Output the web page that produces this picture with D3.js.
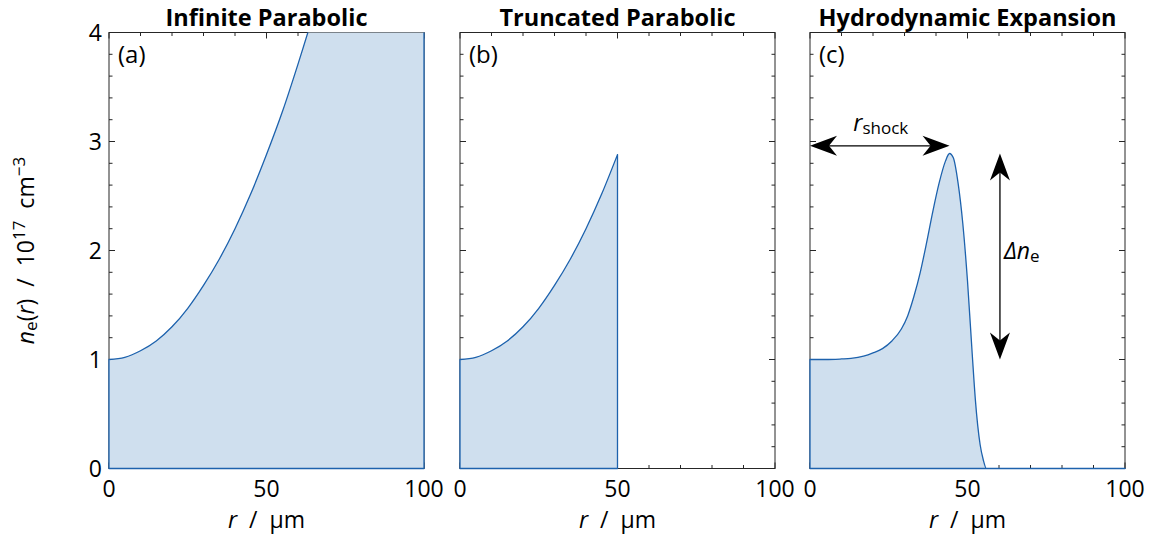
<!DOCTYPE html>
<html>
<head>
<meta charset="utf-8">
<script src="https://cdn.jsdelivr.net/npm/d3@7"></script>
<style>
  body { margin: 0; background: #fff; }
  svg { display: block; }
  text { font-family: "Open Sans", "DejaVu Sans", sans-serif; fill: #000; }
</style>
</head>
<body>
<svg id="chart" width="1161" height="543"></svg>
<script>
// Radial electron density profiles n_e(r), in units of 1e17 cm^-3, r in µm
const titles = ["Infinite Parabolic", "Truncated Parabolic", "Hydrodynamic Expansion"];
const panelTags = ["(a)", "(b)", "(c)"];

const rInfinite = [0, 5, 10, 15, 20, 25, 30, 35, 40, 45, 50, 55, 60, 65, 70, 100];
const nInfinite = [1.00, 1.02, 1.08, 1.17, 1.30, 1.47, 1.68, 1.92, 2.20, 2.52, 2.88, 3.27, 3.71, 4.18, 4.69, 8.52];

const rTruncated = [0, 5, 10, 15, 20, 25, 30, 35, 40, 45, 50];
const nTruncated = [1.00, 1.02, 1.08, 1.17, 1.30, 1.47, 1.68, 1.92, 2.20, 2.52, 2.88];

const rHydro = [0, 5, 10, 13, 17, 20, 23, 26, 29, 31, 33, 35, 37, 39, 41, 43, 44.3, 45.5, 47, 48.5, 50, 51.5, 52.5, 54, 55, 56, 60, 80, 100];
const nHydro = [1.00, 1.00, 1.005, 1.01, 1.03, 1.06, 1.10, 1.17, 1.28, 1.40, 1.58, 1.80, 2.07, 2.36, 2.62, 2.82, 2.89, 2.85, 2.62, 2.25, 1.72, 1.05, 0.63, 0.22, 0.08, 0.0, 0.0, 0.0, 0.0];

const xTicks = [0, 50, 100];
const yTicks = [0, 1, 2, 3, 4];

// annotation geometry in data units (panel c)
const shockLevel = 2.96, shockR = 44.3;
const deltaR = 60.3, deltaTop = 2.89, deltaBottom = 1.0;

const profiles = [
  { r: rInfinite, n: nInfinite },
  { r: rTruncated, n: nTruncated },
  { r: rHydro, n: nHydro }
];

const svg = d3.select("#chart");
const panelLeft = [109, 460, 810];
const panelW = 315, panelTop = 32.5, panelH = 436;
const lineColor = "#1d62ad", fillColor = "#cfdfee", axisColor = "#262626";
const fs = 23, fsSub = 17;

const y = d3.scaleLinear().domain([0, 4]).range([panelTop + panelH, panelTop]);

profiles.forEach((p, i) => {
  const x0 = panelLeft[i];
  const x = d3.scaleLinear().domain([0, 100]).range([x0, x0 + panelW]);
  const g = svg.append("g");

  const clipId = "clip" + i;
  svg.append("clipPath").attr("id", clipId).append("rect")
    .attr("x", x0 - 1).attr("y", panelTop).attr("width", panelW + 2).attr("height", panelH + 2);

  // frame
  g.append("rect").attr("x", x0).attr("y", panelTop).attr("width", panelW).attr("height", panelH)
    .attr("fill", "none").attr("stroke", axisColor).attr("stroke-width", 1);

  // ticks pointing inward on all four sides
  const xMinor = d3.range(0, 101, 10), yMinor = d3.range(0, 21).map(k => k * 0.2);
  const tk = g.append("g").attr("stroke", axisColor).attr("stroke-width", 1);
  xMinor.forEach(v => {
    const len = xTicks.includes(v) ? 6 : 3.5;
    tk.append("line").attr("x1", x(v)).attr("x2", x(v)).attr("y1", y(0)).attr("y2", y(0) - len);
    tk.append("line").attr("x1", x(v)).attr("x2", x(v)).attr("y1", y(4)).attr("y2", y(4) + len);
  });
  yMinor.forEach(v => {
    const isMajor = Math.abs(v - Math.round(v)) < 1e-6;
    const len = isMajor ? 6 : 3.5;
    tk.append("line").attr("y1", y(v)).attr("y2", y(v)).attr("x1", x(0)).attr("x2", x(0) + len);
    tk.append("line").attr("y1", y(v)).attr("y2", y(v)).attr("x1", x(100)).attr("x2", x(100) - len);
  });

  // x tick labels
  xTicks.forEach(v => {
    g.append("text").attr("x", x(v)).attr("y", 497).attr("text-anchor", "middle")
      .attr("font-size", fs).text(v);
  });
  // y tick labels on the first panel only
  if (i === 0) {
    yTicks.forEach(v => {
      g.append("text").attr("x", x0 - 7).attr("y", y(v) + 8).attr("text-anchor", "end")
        .attr("font-size", fs).text(v);
    });
  }

  // density profile: filled patch with outline
  const pts = p.r.map((r, k) => [r, p.n[k]]);
  const area = d3.area().x(d => x(d[0])).y0(y(0)).y1(d => y(d[1])).curve(d3.curveMonotoneX);
  g.append("path").datum(pts).attr("clip-path", `url(#${clipId})`)
    .attr("d", area).attr("fill", fillColor).attr("stroke", lineColor).attr("stroke-width", 1.3)
    .attr("stroke-linejoin", "round");

  // titles, tags, axis label
  g.append("text").attr("x", x(50)).attr("y", 25.5).attr("text-anchor", "middle")
    .attr("font-size", 23.5).attr("font-weight", "bold").text(titles[i]);
  g.append("text").attr("x", x0 + 9).attr("y", 63).attr("font-size", 24).text(panelTags[i]);

  const xl = g.append("text").attr("x", x(50)).attr("y", 528).attr("text-anchor", "middle")
    .attr("font-size", fs).attr("xml:space", "preserve");
  xl.append("tspan").attr("font-style", "italic").text("r");
  xl.append("tspan").text("  /  µm");

  // annotations on the hydrodynamic profile
  if (i === 2) {
    const ann = g.append("g");
    const head = "M0,0 L-27,-10 L-19,0 L-27,10 Z";
    const hy = y(shockLevel);
    ann.append("line").attr("x1", x(0) + 10).attr("x2", x(shockR) - 10).attr("y1", hy).attr("y2", hy)
      .attr("stroke", "#000").attr("stroke-width", 1.3);
    ann.append("path").attr("d", head).attr("transform", `translate(${x(0)},${hy}) rotate(180)`);
    ann.append("path").attr("d", head).attr("transform", `translate(${x(shockR)},${hy})`);

    const vx = x(deltaR);
    ann.append("line").attr("x1", vx).attr("x2", vx).attr("y1", y(deltaTop) + 10).attr("y2", y(deltaBottom) - 10)
      .attr("stroke", "#000").attr("stroke-width", 1.3);
    ann.append("path").attr("d", head).attr("transform", `translate(${vx},${y(deltaTop)}) rotate(-90)`);
    ann.append("path").attr("d", head).attr("transform", `translate(${vx},${y(deltaBottom)}) rotate(90)`);

    const rs = ann.append("text").attr("x", (x(0) + x(shockR)) / 2 + 1).attr("y", 131)
      .attr("text-anchor", "middle").attr("font-size", fs);
    rs.append("tspan").attr("font-style", "italic").text("r");
    rs.append("tspan").attr("font-size", fsSub).attr("dy", 3).text("shock");

    const dn = ann.append("text").attr("x", vx + 4).attr("y", 259).attr("font-size", fs);
    dn.append("tspan").attr("font-style", "italic").text("Δn");
    dn.append("tspan").attr("font-size", fsSub).attr("dy", 3).text("e");
  }
});

// shared y axis label
const yl = svg.append("text").attr("transform", `translate(34,${panelTop + panelH / 2}) rotate(-90)`)
  .attr("text-anchor", "middle").attr("font-size", fs).attr("xml:space", "preserve");
yl.append("tspan").attr("font-style", "italic").text("n");
yl.append("tspan").attr("font-size", fsSub).attr("dy", 3).text("e");
yl.append("tspan").attr("dy", -3).text("(");
yl.append("tspan").attr("font-style", "italic").text("r");
yl.append("tspan").text(")  /  10");
yl.append("tspan").attr("font-size", fsSub).attr("dy", -9).text("17");
yl.append("tspan").attr("dy", 9).text("  cm");
yl.append("tspan").attr("font-size", fsSub).attr("dy", -9).text("−3");
</script>
</body>
</html>
